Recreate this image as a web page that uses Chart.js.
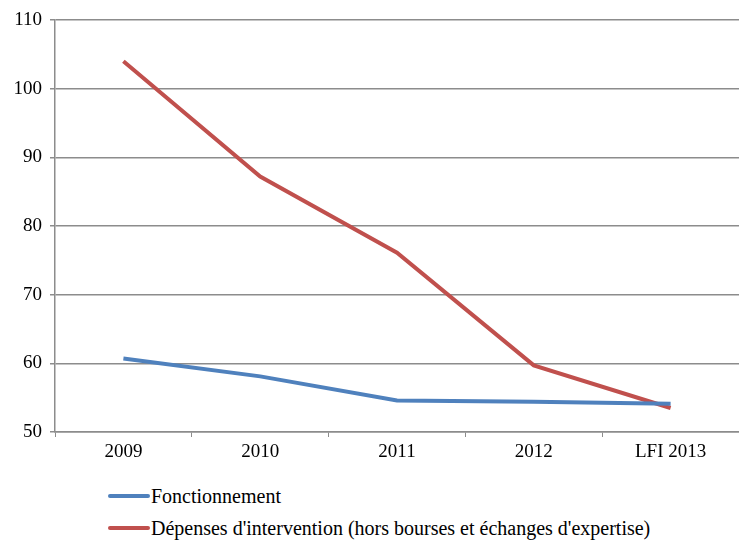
<!DOCTYPE html>
<html><head><meta charset="utf-8">
<script src="https://cdn.jsdelivr.net/npm/chart.js@4/dist/chart.umd.min.js"></script>
<style>
html,body{margin:0;padding:0;background:#fff;}
#wrap{position:relative;width:739px;height:540px;}
#cw{position:absolute;left:0;top:0;width:739px;height:470px;}
#legend{position:absolute;left:108px;top:480px;font-family:"Liberation Serif","Times New Roman",Tinos,"DejaVu Serif",serif;font-size:20px;color:#000;}
.li{display:flex;align-items:center;height:32px;}
.sw{width:42px;height:4px;border-radius:2px;margin-right:1px;}
</style></head>
<body><div id="wrap"><div id="cw"><canvas id="c"></canvas></div><div id="legend"></div></div>
<script>
const categories = ["2009","2010","2011","2012","LFI 2013"];
const fonctionnement = [60.7, 58.1, 54.6, 54.4, 54.1];
const interventions = [104.0, 87.2, 76.1, 59.7, 53.5];
const seriesNames = ["Fonctionnement","Dépenses d'intervention (hors bourses et échanges d'expertise)"];
const seriesColors = ["#4F81BD","#C0504D"];
const yTicks = [50,60,70,80,90,100,110];

const font = {family:'"Liberation Serif", "Times New Roman", Tinos, "DejaVu Serif", serif', size:19};
const gridColor = "#8c8c8c";
new Chart(document.getElementById('c'), {
  type:'line',
  data:{labels:categories, datasets:[
    {label:seriesNames[0], data:fonctionnement, borderColor:seriesColors[0], backgroundColor:seriesColors[0], borderWidth:4, pointRadius:0, tension:0},
    {label:seriesNames[1], data:interventions, borderColor:seriesColors[1], backgroundColor:seriesColors[1], borderWidth:4, pointRadius:0, tension:0}
  ]},
  options:{
    responsive:true, maintainAspectRatio:false, animation:false,
    layout:{padding:{top:20,right:0,bottom:0,left:0}},
    plugins:{legend:{display:false}, tooltip:{enabled:false}},
    scales:{
      x:{offset:true,
         grid:{display:true, drawOnChartArea:false, drawTicks:true, tickLength:5, color:gridColor, offset:true},
         border:{display:true,color:gridColor,width:1.5},
         ticks:{font:font,color:"#000",padding:4,maxRotation:0},
         afterFit:(s)=>{s.height=38;}},
      y:{min:50,max:110,
         afterBuildTicks:(s)=>{s.ticks=yTicks.map(v=>({value:v}));},
         grid:{color:gridColor, lineWidth:1.5, drawTicks:true, tickLength:5},
         border:{display:true,color:gridColor,width:1.5},
         ticks:{font:font,color:"#000",padding:8},
         afterFit:(s)=>{s.width=55;}}
    }
  }
});
const lg = document.getElementById('legend');
seriesNames.forEach((n,i)=>{
  const d=document.createElement('div'); d.className='li';
  const s=document.createElement('span'); s.className='sw'; s.style.background=seriesColors[i];
  const t=document.createElement('span'); t.textContent=n;
  d.appendChild(s); d.appendChild(t); lg.appendChild(d);
});
</script></body></html>
